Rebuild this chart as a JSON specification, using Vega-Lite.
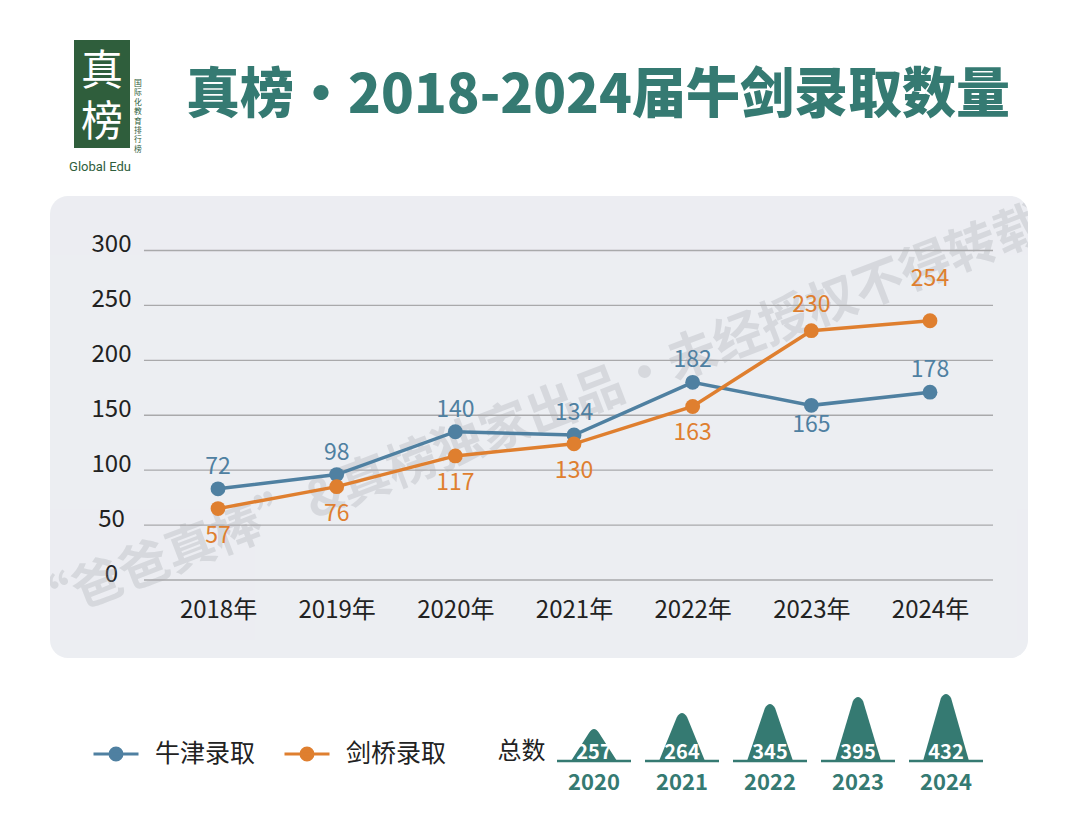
{
  "$schema": "https://vega.github.io/schema/vega-lite/v6.json",
  "padding": {"left": 50, "top": 40, "right": 0, "bottom": 0},
  "background": "#ffffff",
  "spacing": 16,
  "config": {"font": "Noto Sans CJK SC", "view": {"stroke": null}},
  "vconcat": [
    {
      "bounds": "flush",
      "spacing": 20,
      "hconcat": [
        {"width": 4, "height": 140, "data": {"values": []}, "mark": "point"},
        {
          "width": 56,
          "height": 108,
          "view": {"fill": "#2f5e3c", "stroke": null},
          "data": {"values": [{}]},
          "layer": [
            {"mark": {"type": "text", "text": "真", "fontSize": 42, "fill": "#ffffff", "dy": -22}},
            {"mark": {"type": "text", "text": "榜", "fontSize": 42, "fill": "#ffffff", "dy": 29}},
            {"mark": {"type": "text", "text": ["国", "际", "化", "教", "育", "排", "行", "榜"], "fontSize": 7.8, "lineHeight": 9.4, "fill": "#2f5e3c", "dx": 36, "dy": -10}},
            {"mark": {"type": "text", "text": "Global Edu", "fontSize": 13, "fill": "#2f5e3c", "dx": -2, "dy": 73, "font": "Roboto"}}
          ]
        },
        {
          "width": 896,
          "height": 114,
          "data": {"values": [{}]},
          "mark": {"type": "text", "text": "真榜·2018-2024届牛剑录取数量", "fontSize": 54, "fontWeight": 900, "fill": "#357a72"}
        }
      ]
    },
    {
      "width": 978,
      "height": 462,
      "view": {"fill": "#eceef2", "cornerRadius": 18, "stroke": null},
      "data": {
        "values": [
          {"year": 2018, "school": "牛津录取", "pos": 83, "label": 72},
          {"year": 2019, "school": "牛津录取", "pos": 96, "label": 98},
          {"year": 2020, "school": "牛津录取", "pos": 135, "label": 140},
          {"year": 2021, "school": "牛津录取", "pos": 132, "label": 134},
          {"year": 2022, "school": "牛津录取", "pos": 180, "label": 182},
          {"year": 2023, "school": "牛津录取", "pos": 159, "label": 165},
          {"year": 2024, "school": "牛津录取", "pos": 171, "label": 178},
          {"year": 2018, "school": "剑桥录取", "pos": 65, "label": 57},
          {"year": 2019, "school": "剑桥录取", "pos": 85, "label": 76},
          {"year": 2020, "school": "剑桥录取", "pos": 113, "label": 117},
          {"year": 2021, "school": "剑桥录取", "pos": 124, "label": 130},
          {"year": 2022, "school": "剑桥录取", "pos": 158, "label": 163},
          {"year": 2023, "school": "剑桥录取", "pos": 227, "label": 230},
          {"year": 2024, "school": "剑桥录取", "pos": 236, "label": 254}
        ]
      },
      "layer": [
        {
          "data": {"values": [{}]},
          "mark": {"type": "text", "text": "“爸爸真棒”&真榜独家出品·未经授权不得转载", "angle": -21, "fontSize": 50, "fontWeight": "bold", "fill": "#9ea2aa", "opacity": 0.28, "clip": true, "dy": -10}
        },
        {
          "data": {"values": [{"v": 0}, {"v": 50}, {"v": 100}, {"v": 150}, {"v": 200}, {"v": 250}, {"v": 300}]},
          "mark": {"type": "rule", "stroke": "#a9a9ab", "strokeWidth": 1.3},
          "encoding": {
            "y": {"field": "v", "type": "quantitative", "scale": {"domain": [-71, 349.6], "nice": false, "zero": false},
              "axis": {"values": [0, 50, 100, 150, 200, 250, 300], "orient": "left", "offset": -61, "domain": false, "ticks": false, "tickSize": 0, "grid": false, "labelAlign": "center", "labelBaseline": "middle", "labelPadding": 0, "labelFontSize": 24, "labelColor": "#222222", "labelOffset": -6, "title": null}},
            "x": {"datum": 2017.376, "type": "quantitative"},
            "x2": {"datum": 2024.531}
          }
        },
        {
          "mark": {"type": "line", "strokeWidth": 3.5},
          "encoding": {
            "x": {"field": "year", "type": "quantitative", "scale": {"domain": [2016.584, 2024.826], "nice": false, "zero": false},
              "axis": {"values": [2018, 2019, 2020, 2021, 2022, 2023, 2024], "orient": "bottom", "offset": -48, "domain": false, "ticks": false, "tickSize": 0, "grid": false, "labelPadding": 0, "labelBaseline": "middle", "labelFontSize": 24, "labelColor": "#222222", "labelExpr": "datum.value + '年'", "title": null, "labelFlush": false, "labelOverlap": false}},
            "y": {"field": "pos", "type": "quantitative", "scale": {"domain": [-71, 349.6], "nice": false, "zero": false},
              "axis": {"values": [0, 50, 100, 150, 200, 250, 300], "orient": "left", "offset": -61, "domain": false, "ticks": false, "tickSize": 0, "grid": false, "labelAlign": "center", "labelBaseline": "middle", "labelPadding": 0, "labelFontSize": 24, "labelColor": "#222222", "labelOffset": -6, "title": null}},
            "color": {"field": "school", "type": "nominal", "scale": {"domain": ["牛津录取", "剑桥录取"], "range": ["#4f80a1", "#df7f2f"]},
              "legend": {"orient": "none", "legendX": 42, "legendY": 690, "direction": "horizontal", "title": null, "symbolType": "M-1,0L1,0M0.267,0A0.267,0.267,0,1,1,-0.267,0A0.267,0.267,0,1,1,0.267,0Z", "symbolSize": 2025, "symbolStrokeWidth": 3, "labelFontSize": 25, "labelColor": "#222222", "labelOffset": 15, "columnPadding": 22, "padding": 0, "labelLimit": 300,
                "encode": {"symbols": {"update": {"fill": {"scale": "color", "field": "value"}, "stroke": {"scale": "color", "field": "value"}, "opacity": {"value": 1}}}}}}
          }
        },
        {
          "mark": {"type": "point", "filled": true, "size": 220, "opacity": 1},
          "encoding": {
            "x": {"field": "year", "type": "quantitative"},
            "y": {"field": "pos", "type": "quantitative"},
            "color": {"field": "school", "type": "nominal"}
          }
        },
        {
          "transform": [{"filter": "datum.school == '牛津录取' && datum.year != 2023"}],
          "mark": {"type": "text", "fontSize": 23, "fill": "#4f80a1", "dy": -22},
          "encoding": {"x": {"field": "year", "type": "quantitative"}, "y": {"field": "pos", "type": "quantitative"}, "text": {"field": "label"}}
        },
        {
          "transform": [{"filter": "datum.school == '牛津录取' && datum.year == 2023"}],
          "mark": {"type": "text", "fontSize": 23, "fill": "#4f80a1", "dy": 20},
          "encoding": {"x": {"field": "year", "type": "quantitative"}, "y": {"field": "pos", "type": "quantitative"}, "text": {"field": "label"}}
        },
        {
          "transform": [{"filter": "datum.school == '剑桥录取' && datum.year <= 2022"}],
          "mark": {"type": "text", "fontSize": 23, "fill": "#df7f2f", "dy": 27},
          "encoding": {"x": {"field": "year", "type": "quantitative"}, "y": {"field": "pos", "type": "quantitative"}, "text": {"field": "label"}}
        },
        {
          "transform": [{"filter": "datum.school == '剑桥录取' && datum.year == 2023"}],
          "mark": {"type": "text", "fontSize": 23, "fill": "#df7f2f", "dy": -26},
          "encoding": {"x": {"field": "year", "type": "quantitative"}, "y": {"field": "pos", "type": "quantitative"}, "text": {"field": "label"}}
        },
        {
          "transform": [{"filter": "datum.school == '剑桥录取' && datum.year == 2024"}],
          "mark": {"type": "text", "fontSize": 23, "fill": "#df7f2f", "dy": -42},
          "encoding": {"x": {"field": "year", "type": "quantitative"}, "y": {"field": "pos", "type": "quantitative"}, "text": {"field": "label"}}
        }
      ]
    },
    {
      "bounds": "flush",
      "spacing": 0,
      "hconcat": [
        {"width": 443, "height": 126, "data": {"values": []}, "mark": "point"},
        {"width": 57, "height": 126, "data": {"values": [{}]}, "mark": {"type": "text", "text": "总数", "fontSize": 24, "fill": "#222222", "dy": 15}},
        {
          "width": 440,
          "height": 126,
          "data": {"values": [
            {"year": "2020", "total": 257},
            {"year": "2021", "total": 264},
            {"year": "2022", "total": 345},
            {"year": "2023", "total": 395},
            {"year": "2024", "total": 432}
          ]},
          "encoding": {"x": {"field": "year", "type": "ordinal", "scale": {"type": "point", "padding": 0.5}, "axis": null}},
          "layer": [
            {"mark": {"type": "point", "shape": "M-1,0L1,0", "size": 5476, "filled": false, "stroke": "#357a72", "strokeWidth": 2.5, "opacity": 1, "yOffset": 24}},
            {
              "mark": {"type": "point", "filled": true, "size": 2116, "opacity": 1, "color": "#357a72", "yOffset": 24},
              "encoding": {"shape": {"field": "year", "type": "nominal", "legend": null, "scale": {"domain": ["2020", "2021", "2022", "2023", "2024"], "range": [
                "M-1,0L-0.22,-1.217Q0,-1.565,0.22,-1.217L1,0Z",
                "M-1,0L-0.22,-1.913Q0,-2.261,0.22,-1.913L1,0Z",
                "M-1,0L-0.22,-2.304Q0,-2.652,0.22,-2.304L1,0Z",
                "M-1,0L-0.22,-2.609Q0,-2.957,0.22,-2.609L1,0Z",
                "M-1,0L-0.22,-2.739Q0,-3.087,0.22,-2.739L1,0Z"
              ]}}}
            },
            {"mark": {"type": "text", "fontSize": 20, "fontWeight": "bold", "fill": "#ffffff", "dy": 16}, "encoding": {"text": {"field": "total"}}},
            {"mark": {"type": "text", "fontSize": 22, "fontWeight": "bold", "fill": "#357a72", "dy": 46}, "encoding": {"text": {"field": "year"}}}
          ]
        }
      ]
    }
  ]
}
